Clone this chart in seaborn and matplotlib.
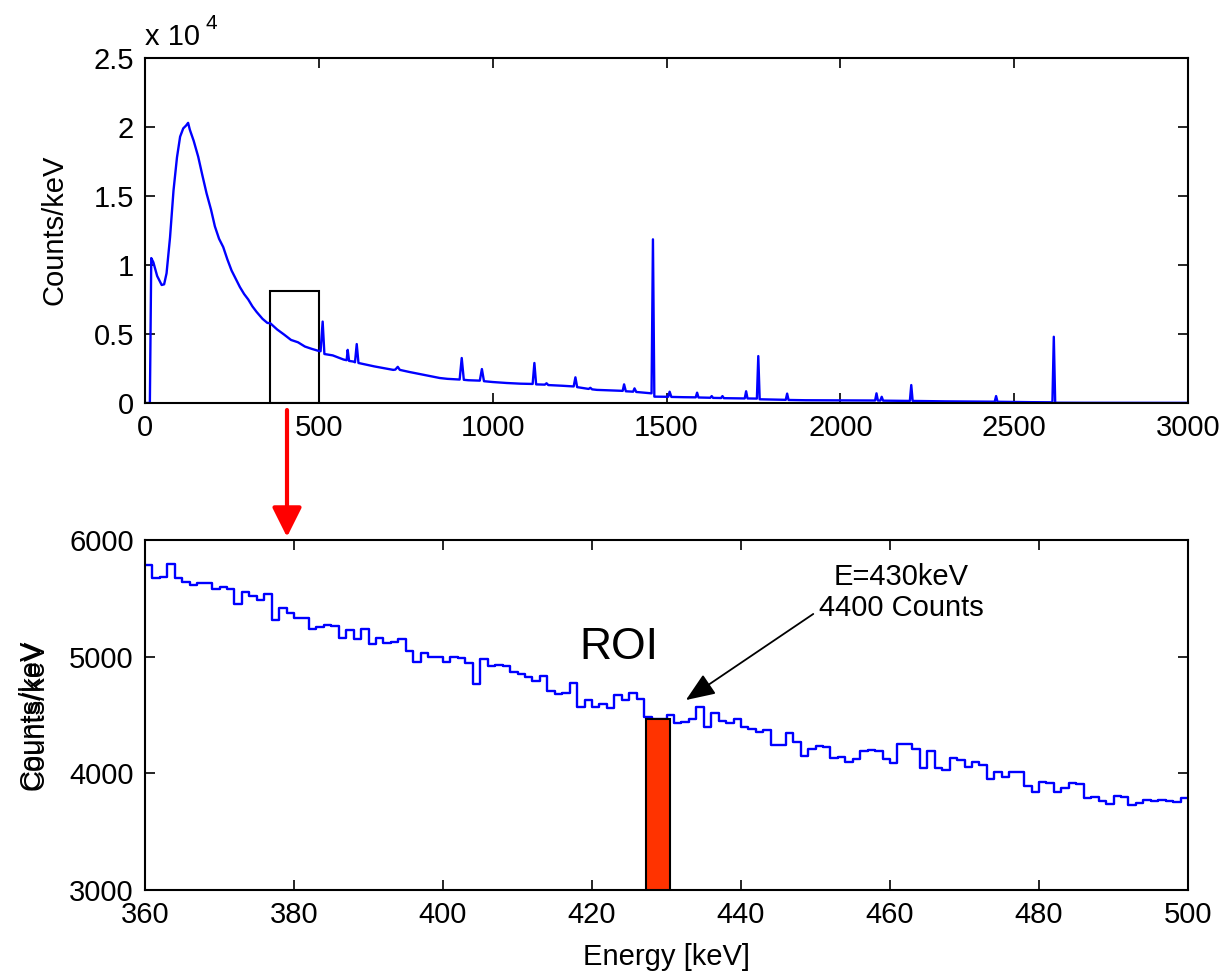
import matplotlib
matplotlib.use("Agg")
import matplotlib.pyplot as plt
from matplotlib.patches import Rectangle, FancyArrowPatch
from matplotlib.ticker import FuncFormatter
import seaborn as sns
import numpy as np

sns.set_style("ticks")
plt.rcParams['font.family'] = ['Liberation Sans', 'DejaVu Sans']
plt.rcParams['text.color'] = 'black'
plt.rcParams['axes.labelcolor'] = 'black'
plt.rcParams['xtick.color'] = 'black'
plt.rcParams['ytick.color'] = 'black'

# full spectrum (keV, counts/keV)
top_energy = [0, 14, 18, 24, 35, 48, 55, 62, 72, 82, 92, 101, 110, 118, 124, 129, 140, 153,
              165, 177, 190, 201, 213, 225, 237, 249, 261, 273, 285, 297, 309, 321, 338, 352,
              360, 380, 400, 420, 440, 460, 480, 500, 505, 511, 516, 540, 571, 580, 583, 587,
              600, 604, 609, 614, 660, 714, 720, 727, 733, 760, 800, 848, 870, 905, 911, 917,
              930, 963, 969, 975, 1000, 1040, 1080, 1115, 1120, 1125, 1150, 1155, 1160, 1200,
              1233, 1238, 1243, 1276, 1281, 1286, 1300, 1350, 1374, 1378, 1383, 1404, 1408,
              1413, 1450, 1457, 1461, 1465, 1500, 1505, 1509, 1514, 1550, 1584, 1588, 1592,
              1626, 1630, 1634, 1657, 1661, 1665, 1700, 1725, 1729, 1733, 1760, 1764, 1768,
              1800, 1843, 1847, 1851, 1900, 2000, 2100, 2104, 2108, 2115, 2119, 2123, 2200,
              2204, 2208, 2300, 2400, 2444, 2448, 2452, 2550, 2610, 2614, 2618, 2700, 3000]
top_counts = [0, 0, 10500, 10200, 9200, 8550, 8600, 9400, 12000, 15400, 17800, 19300, 19900,
              20100, 20300, 19800, 19000, 17850, 16500, 15200, 14000, 12800, 11900, 11300,
              10400, 9600, 9000, 8400, 7900, 7500, 7000, 6600, 6100, 5800,
              5786, 5330, 4960, 4570, 4400, 4090, 3920, 3770, 3750, 5900, 3550, 3450, 3150,
              3100, 3850, 3050, 3000, 2950, 4270, 2900, 2650, 2400, 2420, 2620, 2400, 2250,
              2050, 1810, 1750, 1700, 3260, 1680, 1650, 1620, 2460, 1580, 1520, 1450, 1400,
              1380, 2900, 1350, 1330, 1430, 1300, 1250, 1200, 1860, 1150, 1020, 1100, 990,
              950, 900, 880, 1350, 850, 820, 1060, 800, 720, 700, 11860, 460, 450, 450, 820,
              440, 420, 410, 750, 400, 380, 500, 370, 360, 500, 350, 340, 330, 850, 330, 320,
              3400, 270, 250, 230, 680, 220, 200, 190, 180, 700, 180, 175, 450, 170, 150, 1300,
              150, 120, 100, 95, 500, 90, 60, 50, 4800, 20, 15, 10]

# zoomed region, 1 keV bins from 360 to 500
roi_edges = list(range(360, 501))
roi_counts = [5786, 5677, 5680, 5791, 5677, 5643, 5614, 5634, 5629, 5577,
              5600, 5583, 5451, 5557, 5523, 5486, 5537, 5314, 5414, 5377,
              5329, 5329, 5237, 5257, 5271, 5266, 5163, 5229, 5149, 5237,
              5109, 5160, 5114, 5126, 5154, 5051, 4954, 5029, 5000, 4994,
              4954, 4994, 4989, 4943, 4766, 4983, 4920, 4929, 4920, 4865,
              4851, 4823, 4794, 4834, 4709, 4677, 4686, 4771, 4566, 4629,
              4566, 4594, 4557, 4671, 4629, 4686, 4634, 4486, 4470, 4470,
              4500, 4434, 4443, 4466, 4571, 4400, 4514, 4451, 4429, 4469,
              4400, 4380, 4351, 4371, 4243, 4243, 4349, 4266, 4151, 4209,
              4237, 4223, 4129, 4143, 4094, 4123, 4194, 4200, 4191, 4123,
              4086, 4249, 4249, 4206, 4049, 4194, 4049, 4029, 4129, 4114,
              4057, 4094, 4071, 3951, 4014, 3966, 4009, 4009, 3894, 3843,
              3925, 3917, 3837, 3871, 3914, 3906, 3786, 3794, 3763, 3734,
              3806, 3794, 3726, 3743, 3771, 3763, 3771, 3763, 3757, 3786]

roi_bar_left = 427.3
roi_bar_width = 3.2
roi_bar_height = 4470

fs = 21

fig = plt.figure(figsize=(12.28, 9.75), dpi=100)
ax1 = fig.add_axes([145/1228, 1 - 403/975, 1043/1228, 345/975])
ax2 = fig.add_axes([145/1228, 1 - 890/975, 1043/1228, 350/975])

for ax in (ax1, ax2):
    for sp in ax.spines.values():
        sp.set_linewidth(1.5)
        sp.set_color('black')
    ax.tick_params(direction='in', top=True, right=True, length=7, width=1.2,
                   labelsize=fs, pad=8, colors='black')

# upper panel
sns.lineplot(x=top_energy, y=top_counts, ax=ax1, color='blue', linewidth=1.7,
             estimator=None, sort=False)
ax1.set_xlim(0, 3000)
ax1.set_ylim(0, 25000)
ax1.set_xticks(range(0, 3001, 500))
ax1.set_yticks(np.arange(0, 25001, 5000))
ax1.yaxis.set_major_formatter(FuncFormatter(lambda v, p: f"{v/1e4:g}"))
ax1.add_patch(Rectangle((360, 0), 140, 8100, fill=False, edgecolor='black', lw=1.5))
fig.text(145/1228, 1 - 45/975, "x 10", fontsize=fs, ha='left', va='baseline')
fig.text(205/1228, 1 - 29/975, "4", fontsize=15, ha='left', va='baseline')
fig.text(55/1228, 1 - 230/975, "Counts/keV", fontsize=fs, rotation=90,
         ha='center', va='center')

# lower panel
sns.lineplot(x=roi_edges, y=roi_counts + [roi_counts[-1]], ax=ax2, color='blue',
             linewidth=1.7, drawstyle='steps-post', estimator=None, sort=False)
ax2.bar(roi_bar_left, roi_bar_height - 3000, bottom=3000, width=roi_bar_width,
        align='edge', color='#ff3300', edgecolor='black', linewidth=1.5, zorder=3)
ax2.set_xlim(360, 500)
ax2.set_ylim(3000, 6000)
ax2.set_xticks(range(360, 501, 20))
ax2.set_yticks(range(3000, 6001, 1000))
ax2.set_xlabel("Energy [keV]", fontsize=fs, labelpad=10)
ax2.text(423.6, 5080, "ROI", fontsize=32, ha='center', va='center')
ax2.text(461.5, 5550, "E=430keV\n4400 Counts", fontsize=fs, ha='center', va='center',
         multialignment='center', linespacing=1.15)
ax2.annotate("", xy=(432.6, 4628), xytext=(449.7, 5366),
             arrowprops=dict(arrowstyle='-|>,head_length=0.9,head_width=0.36',
                             color='black', lw=1.3, mutation_scale=20,
                             shrinkA=0, shrinkB=0))
for dx in (32, 36):
    fig.text(dx/1228, 1 - 715/975, "Counts/keV", fontsize=fs, rotation=90,
             ha='center', va='center')

# red arrow linking the two panels
fig.patches.append(FancyArrowPatch(
    (287/1228, 1 - 410/975), (287/1228, 1 - 537/975), transform=fig.transFigure,
    arrowstyle='-|>,head_length=0.9,head_width=0.45', mutation_scale=20,
    color='red', lw=3, shrinkA=0, shrinkB=0))

fig.savefig("out.png", dpi=100)
